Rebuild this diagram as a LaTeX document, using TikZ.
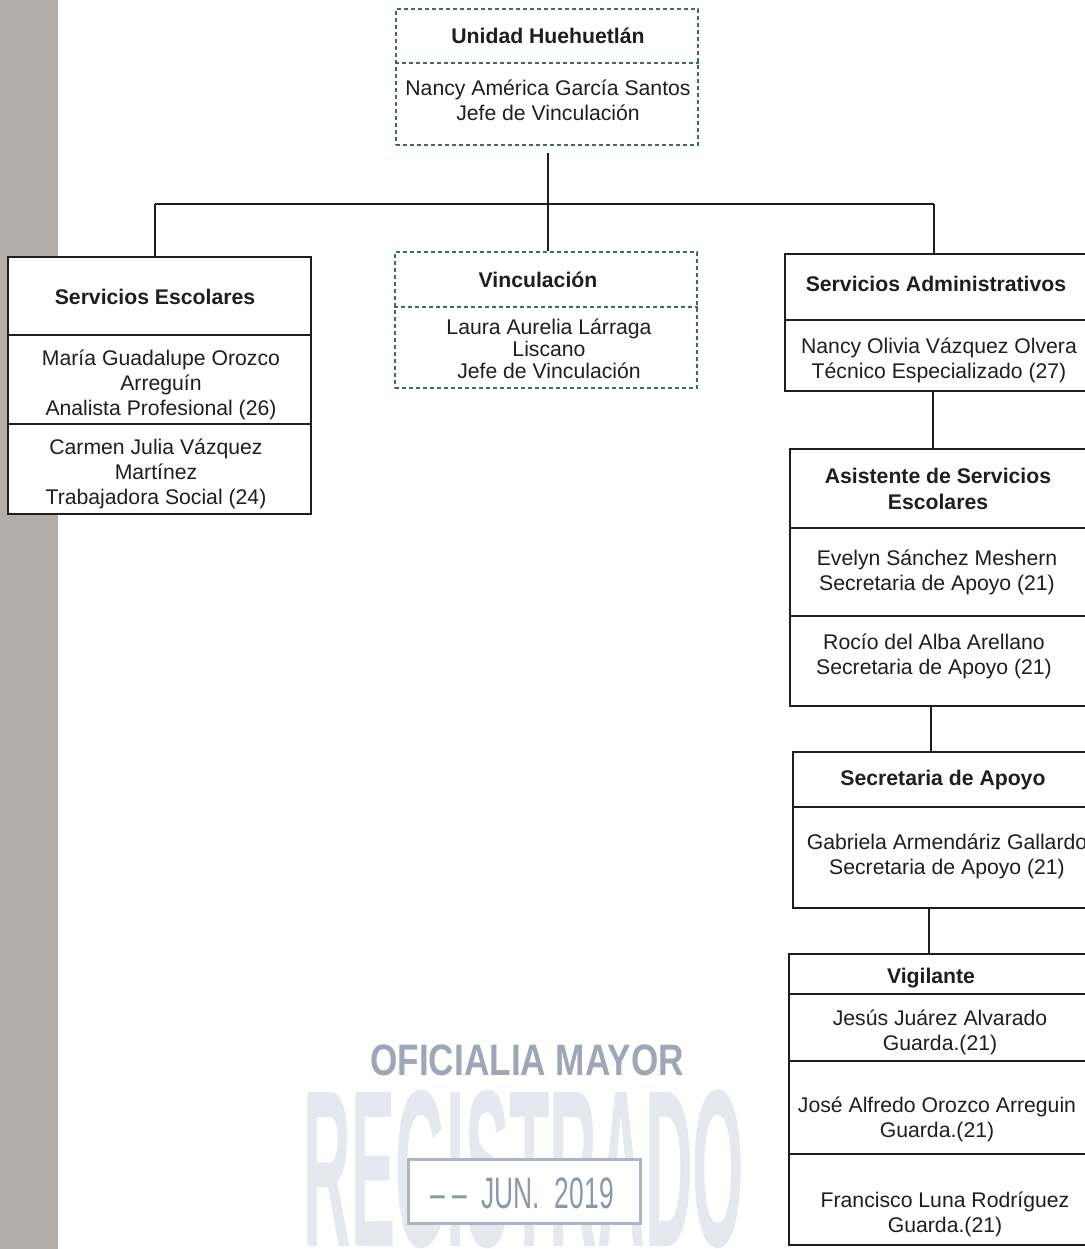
\documentclass[tikz,border=0pt]{standalone}
\usepackage{fontspec}
\setmainfont{Liberation Sans}
\usetikzlibrary{fit,calc}
\definecolor{ink}{HTML}{1E1E1E}
\definecolor{dashcol}{HTML}{3E6A68}
\definecolor{strip}{HTML}{B3AEA9}
\definecolor{stampcol}{HTML}{8E96AC}
\definecolor{stamplight}{HTML}{E6E8EF}
\begin{document}
\begin{tikzpicture}[x=0.5pt,y=-0.5pt,
  box/.style={draw=ink,line width=1pt,fill=white,inner sep=0pt},
  dbox/.style={draw=dashcol,line width=0.9pt,dash pattern=on 2pt off 1.5pt,fill=white,inner sep=0pt},
  txt/.style={text=ink,align=center,inner sep=0pt,font=\fontsize{10.6}{12.6}\selectfont},
  ttl/.style={text=ink,align=center,inner sep=0pt,font=\fontsize{10.6}{12.6}\selectfont\bfseries},
  conn/.style={draw=ink,line width=1pt},
  sepline/.style={draw=ink,line width=1pt},
  dsepline/.style={draw=dashcol,line width=0.9pt,dash pattern=on 2pt off 1.5pt}]
\useasboundingbox (0,0) rectangle (1085,1249);
\clip (0,0) rectangle (1085,1249);
\fill[white] (0,0) rectangle (1085,1249);
\fill[strip] (0,0) rectangle (58,1249);

% ---- stamp (behind) ----
\node[anchor=base,inner sep=0pt,xscale=0.295,text=stamplight,font=\fontsize{112}{112}\selectfont\bfseries] (regtxt) at (524,1246) {REGISTRADO};
\node[inner sep=0pt,xscale=0.8,text=stampcol!85,font=\fontsize{22}{22}\selectfont\bfseries] (ofic) at (527,1060) {OFICIALIA MAYOR};
\node[draw=stampcol!70,line width=1.5pt,fill=white,inner sep=0pt,fit={(408,1159) (640,1223)}] (junbox) {};
\node[inner sep=0pt,xscale=0.6,text=stampcol,font=\fontsize{22}{22}\selectfont] (juntxt) at (522,1193) {-- --\ \ JUN.\ \ 2019};

% ---- boxes ----
\node[dbox,fit={(396,9) (698,145)}] (top) {};
\node[dbox,fit={(395,252) (697,388)}] (vinc) {};
\node[box,fit={(8,257) (311,514)}] (escol) {};
\node[box,fit={(785,254) (1095,391)}] (admin) {};
\node[box,fit={(790,449) (1095,706)}] (asist) {};
\node[box,fit={(793,752) (1095,908)}] (secre) {};
\node[box,fit={(789,954) (1095,1245)}] (vigil) {};

% ---- dividers ----
\draw[dsepline] ($(top.north west)+(0,55)$) -- ($(top.north east)+(0,55)$);
\draw[dsepline] ($(vinc.north west)+(0,56)$) -- ($(vinc.north east)+(0,56)$);
\draw[sepline] ($(escol.north west)+(0,79)$) -- ($(escol.north east)+(0,79)$);
\draw[sepline] ($(escol.north west)+(0,168)$) -- ($(escol.north east)+(0,168)$);
\draw[sepline] ($(admin.north west)+(0,67)$) -- ($(admin.north east)+(0,67)$);
\draw[sepline] ($(asist.north west)+(0,80)$) -- ($(asist.north east)+(0,80)$);
\draw[sepline] ($(asist.north west)+(0,168)$) -- ($(asist.north east)+(0,168)$);
\draw[sepline] ($(secre.north west)+(0,56)$) -- ($(secre.north east)+(0,56)$);
\draw[sepline] ($(vigil.north west)+(0,41)$) -- ($(vigil.north east)+(0,41)$);
\draw[sepline] ($(vigil.north west)+(0,108)$) -- ($(vigil.north east)+(0,108)$);
\draw[sepline] ($(vigil.north west)+(0,201)$) -- ($(vigil.north east)+(0,201)$);

% ---- connectors ----
\coordinate (busL) at (155,204);
\coordinate (busR) at (934,204);
\draw[conn] ($(top.south)+(1,7)$) -- ($(vinc.north)+(2,0)$);
\draw[conn] (busL) -- (busR);
\draw[conn] (busL) -- (busL |- escol.north);
\draw[conn] (busR) -- (busR |- admin.north);
\draw[conn] ($(admin.south west)+(149,0)$) -- ($(asist.north west)+(144,0)$);
\draw[conn] ($(asist.south west)+(142,0)$) -- ($(secre.north west)+(139,0)$);
\draw[conn] ($(secre.south west)+(137,0)$) -- ($(vigil.north west)+(141,0)$);

% ---- texts ----
\node[ttl] (t-top) at (548,36) {Unidad Huehuetlán};
\node[txt] (b-top) at (548,100) {Nancy América García Santos\\Jefe de Vinculación};

\node[ttl] (t-vinc) at (538,280) {Vinculación};
\node[txt,font=\fontsize{10.6}{10.9}\selectfont] (b-vinc) at (549,349) {Laura Aurelia Lárraga\\Liscano\\Jefe de Vinculación};

\node[ttl] (t-escol) at (155,297) {Servicios Escolares};
\node[txt] (b-escol1) at (161,385) {María Guadalupe Orozco\\Arreguín\\Analista Profesional (26)};
\node[txt] (b-escol2) at (156,474) {Carmen Julia Vázquez\\Martínez\\Trabajadora Social (24)};

\node[ttl] (t-admin) at (936,284) {Servicios Administrativos};
\node[txt] (b-admin) at (939,360) {Nancy Olivia Vázquez Olvera\\Técnico Especializado (27)};

\node[ttl] (t-asist) at (938,489) {Asistente de Servicios\\Escolares};
\node[txt] (b-asist1) at (937,572) {Evelyn Sánchez Meshern\\Secretaria de Apoyo (21)};
\node[txt] (b-asist2) at (934,656) {Rocío del Alba Arellano\\Secretaria de Apoyo (21)};

\node[ttl] (t-secre) at (943,780) {Secretaria de Apoyo};
\node[txt] (b-secre) at (947,856) {Gabriela Armendáriz Gallardo\\Secretaria de Apoyo (21)};

\node[ttl] (t-vigil) at (931,978) {Vigilante};
\node[txt] (b-vigil1) at (940,1032) {Jesús Juárez Alvarado\\Guarda.(21)};
\node[txt] (b-vigil2) at (937,1119) {José Alfredo Orozco Arreguin\\Guarda.(21)};
\node[txt] (b-vigil3) at (945,1214) {Francisco Luna Rodríguez\\Guarda.(21)};
\end{tikzpicture}
\end{document}
